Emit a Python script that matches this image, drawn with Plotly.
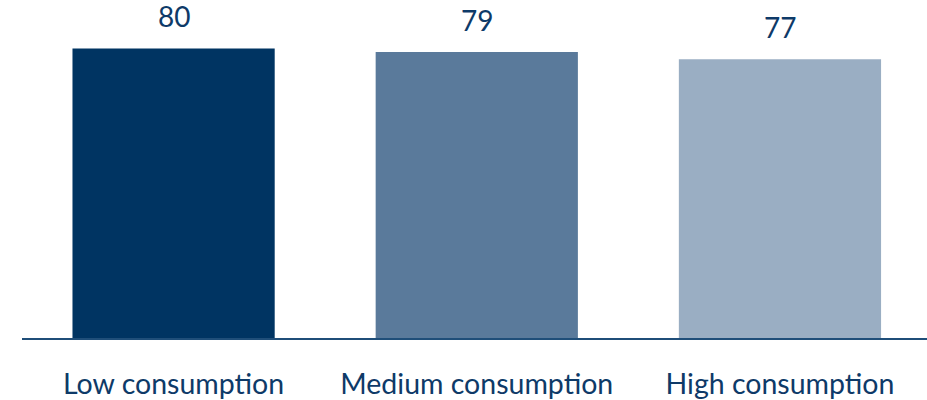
import plotly.graph_objects as go

categories = ["Low consumption", "Medium consumption", "High consumption"]
values = [80, 79, 77]
bar_colors = ["#003462", "#5a7a9b", "#9aaec3"]
value_labels = ["80", "79", "77"]

text_color = "#0e3a68"
font_family = "Lato, 'Open Sans', sans-serif"

fig = go.Figure()
fig.add_trace(go.Bar(
    x=categories,
    y=values,
    marker=dict(color=bar_colors, line=dict(width=0)),
    hoverinfo="skip",
))

for c, v, t in zip(categories, values, value_labels):
    fig.add_annotation(
        x=c, y=v, text=t, showarrow=False,
        yanchor="bottom", yshift=13,
        font=dict(family=font_family, size=28, color=text_color),
    )

fig.update_layout(
    width=927, height=400,
    margin=dict(l=22, r=0, t=0, b=59),
    paper_bgcolor="white",
    plot_bgcolor="white",
    bargap=0.333,
    showlegend=False,
    xaxis=dict(
        range=[-0.5, 2.485],
        showline=True, linecolor="#1f4e79", linewidth=2,
        showgrid=False, zeroline=False,
        ticks="", ticklabelstandoff=20,
        tickfont=dict(family=font_family, size=28.5, color=text_color),
    ),
    yaxis=dict(
        range=[0, 93.4], visible=False, showgrid=False, zeroline=False,
    ),
)

fig.write_html(
    "out.html",
    config={"displayModeBar": False},
    post_script="document.body.style.margin='0';document.body.style.overflow='hidden';",
)
